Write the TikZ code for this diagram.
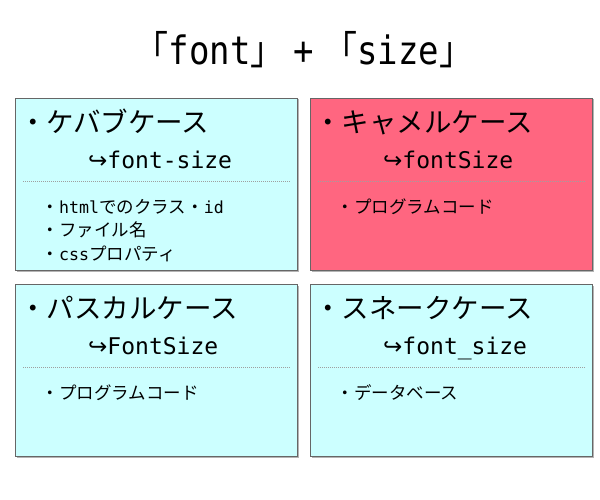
\documentclass[tikz,border=0pt]{standalone}
\usepackage{fontspec}
\usepackage{graphicx}
\setmonofont{DejaVu Sans Mono}
\newfontfamily\jp{Noto Sans CJK JP}
\newfontfamily\arrowfont{DejaVu Sans}
\newcommand\lat[1]{{\ttfamily #1}}
\newcommand\ilat[1]{{\ttfamily\fontsize{16.6pt}{20pt}\selectfont #1}}
\newcommand\hook{{\arrowfont ↪}}
\newcommand\headsize{\fontsize{27.5pt}{30pt}\selectfont}
\newcommand\subsize{\fontsize{23pt}{26pt}\selectfont}
\newcommand\itemsize{\fontsize{17.5pt}{20pt}\selectfont}
\newcommand\titlesize{\fontsize{34pt}{38pt}\selectfont}

\definecolor{panelcyan}{HTML}{CCFFFF}
\definecolor{panelred}{HTML}{FF6680}
\definecolor{panelborder}{HTML}{666666}
\definecolor{panelshade}{HTML}{B4B4B4}

\tikzset{
  panel/.style={draw=panelborder, line width=1pt, minimum width=282pt,
    minimum height=172pt, anchor=north west, inner sep=0pt},
  shade/.style={fill=panelshade},
  heading/.style={anchor=base west, inner sep=0pt, font=\jp\headsize},
  subname/.style={anchor=base west, inner sep=0pt, font=\ttfamily\subsize},
  entry/.style={anchor=base west, inner sep=0pt, font=\jp\itemsize},
  rule/.style={draw=gray!75, line width=0.8pt, dash pattern=on 0.9pt off 1.1pt},
}

\begin{document}
\begin{tikzpicture}[x=1pt, y=-1pt]
\useasboundingbox (0,0) rectangle (600,500);

% title
\node[anchor=base, inner sep=0pt] (title) at (304,65)
  {\scalebox{1}[1.15]{\titlesize{\jp 「}\lat{font}{\jp 」}\hspace{9pt}\lat{+}\hspace{9pt}{\jp 「}\lat{size}{\jp 」}}};

% kebab case
\begin{scope}[shift={(15,98)}]
  \fill[shade] (1.5,1.5) rectangle (283.5,173.5);
  \node[panel, fill=panelcyan] (kebab) at (0,0) {};
  \node[heading] (kebab-head) at (4,34.5) {・ケバブケース};
  \node[subname] (kebab-name) at (73,70) {\hook font-size};
  \coordinate (kebab-l) at (8,83.5);
  \coordinate (kebab-r) at (275,83.5);
  \draw[rule] (kebab-l) -- (kebab-r);
  \node[entry] (kebab-i1) at (26.5,115) {・\ilat{html}でのクラス・\ilat{id}};
  \node[entry] (kebab-i2) at (26.5,138.5) {・ファイル名};
  \node[entry] (kebab-i3) at (26.5,162) {・\ilat{css}プロパティ};
\end{scope}

% camel case
\begin{scope}[shift={(310,98)}]
  \fill[shade] (1.5,1.5) rectangle (283.5,173.5);
  \node[panel, fill=panelred] (camel) at (0,0) {};
  \node[heading] (camel-head) at (4,34.5) {・キャメルケース};
  \node[subname] (camel-name) at (73,70) {\hook fontSize};
  \coordinate (camel-l) at (8,83.5);
  \coordinate (camel-r) at (275,83.5);
  \draw[rule] (camel-l) -- (camel-r);
  \node[entry] (camel-i1) at (26.5,115) {・プログラムコード};
\end{scope}

% pascal case
\begin{scope}[shift={(15,284)}]
  \fill[shade] (1.5,1.5) rectangle (283.5,173.5);
  \node[panel, fill=panelcyan] (pascal) at (0,0) {};
  \node[heading] (pascal-head) at (4,34.5) {・パスカルケース};
  \node[subname] (pascal-name) at (73,70) {\hook FontSize};
  \coordinate (pascal-l) at (8,83.5);
  \coordinate (pascal-r) at (275,83.5);
  \draw[rule] (pascal-l) -- (pascal-r);
  \node[entry] (pascal-i1) at (26.5,115) {・プログラムコード};
\end{scope}

% snake case
\begin{scope}[shift={(310,284)}]
  \fill[shade] (1.5,1.5) rectangle (283.5,173.5);
  \node[panel, fill=panelcyan] (snake) at (0,0) {};
  \node[heading] (snake-head) at (4,34.5) {・スネークケース};
  \node[subname] (snake-name) at (73,70) {\hook font\_size};
  \coordinate (snake-l) at (8,83.5);
  \coordinate (snake-r) at (275,83.5);
  \draw[rule] (snake-l) -- (snake-r);
  \node[entry] (snake-i1) at (26.5,115) {・データベース};
\end{scope}
\end{tikzpicture}
\end{document}
